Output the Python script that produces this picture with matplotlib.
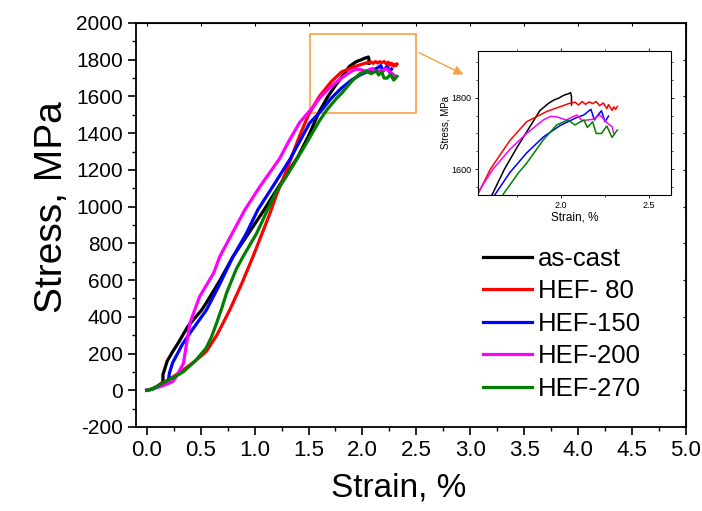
import numpy as np
import matplotlib
matplotlib.use("Agg")
import matplotlib.pyplot as plt
from matplotlib.patches import Rectangle
from matplotlib.ticker import MultipleLocator

plt.rcParams['font.family'] = ['Liberation Sans', 'DejaVu Sans']
plt.rcParams['axes.unicode_minus'] = False

# ---- data (strain %, stress MPa) ----
labels = ["as-cast", "HEF- 80", "HEF-150", "HEF-200", "HEF-270"]
colors = ["#000000", "#ff0000", "#0000ff", "#ff00ff", "#008000"]

strain_ascast = [0, 0.05, 0.10, 0.15, 0.15, 0.19, 0.24, 0.29, 0.38, 0.51, 0.55, 0.68,
                 0.80, 0.95, 1.08, 1.17, 1.29, 1.40, 1.50, 1.60, 1.68, 1.75, 1.80,
                 1.88, 1.93, 1.96, 1.99, 2.01, 2.03, 2.045, 2.055, 2.06, 2.06]
stress_ascast = [0, 8, 22, 45, 85, 160, 210, 256, 347, 438, 474, 600,
                 728, 860, 975, 1060, 1170, 1270, 1385, 1518, 1600, 1660, 1700,
                 1764, 1785, 1794, 1800, 1806, 1810, 1812, 1815, 1804, 1780]

strain_hef80 = [0, 0.05, 0.15, 0.25, 0.34, 0.45, 0.55, 0.65, 0.77, 0.88, 0.985, 1.08,
                1.14, 1.20, 1.27, 1.34, 1.42, 1.50, 1.60, 1.71, 1.805, 1.92, 2.05,
                2.08, 2.10, 2.12, 2.14, 2.16, 2.18, 2.20, 2.22, 2.24, 2.26, 2.27,
                2.29, 2.30, 2.31, 2.32]
stress_hef80 = [0, 6, 40, 75, 111, 160, 210, 300, 438, 580, 728, 870,
                960, 1060, 1160, 1265, 1390, 1500, 1600, 1680, 1733, 1762, 1785,
                1788, 1780, 1790, 1782, 1789, 1784, 1790, 1778, 1786, 1770, 1781,
                1765, 1775, 1768, 1776]

strain_hef150 = [0, 0.05, 0.10, 0.15, 0.20, 0.21, 0.24, 0.27, 0.33, 0.40, 0.554, 0.67,
                 0.80, 0.92, 1.03, 1.18, 1.33, 1.51, 1.615, 1.71, 1.805, 1.90, 1.994,
                 2.09, 2.13, 2.17, 2.19, 2.21, 2.23, 2.25, 2.27]
stress_hef150 = [0, 6, 18, 35, 50, 93, 150, 183, 250, 311, 438, 570,
                 728, 850, 983, 1120, 1260, 1455, 1520, 1590, 1645, 1690, 1722,
                 1745, 1752, 1768, 1738, 1752, 1764, 1733, 1749]

strain_hef200 = [0, 0.05, 0.15, 0.24, 0.28, 0.34, 0.40, 0.445, 0.49, 0.62, 0.677, 0.77,
                 0.91, 1.05, 1.23, 1.33, 1.42, 1.53, 1.615, 1.71, 1.805, 1.90, 1.94,
                 1.976, 2.03, 2.06, 2.09, 2.12, 2.15, 2.18, 2.22, 2.24, 2.26, 2.29, 2.30]
stress_hef200 = [0, 6, 25, 47, 80, 147, 365, 438, 510, 638, 728, 830,
                 983, 1110, 1260, 1370, 1460, 1535, 1600, 1655, 1700, 1738, 1748,
                 1747, 1738, 1745, 1752, 1736, 1738, 1740, 1752, 1742, 1731, 1719, 1700]

strain_hef270 = [0, 0.05, 0.15, 0.25, 0.34, 0.45, 0.55, 0.60, 0.65, 0.70, 0.74, 0.83,
                 0.893, 1.02, 1.11, 1.19, 1.30, 1.435, 1.605, 1.67, 1.76, 1.805, 1.90,
                 1.976, 2.04, 2.08, 2.10, 2.13, 2.15, 2.18, 2.20, 2.23, 2.26, 2.29, 2.32]
stress_hef270 = [0, 5, 40, 70, 101, 160, 229, 290, 370, 455, 530, 660,
                 728, 856, 970, 1070, 1170, 1300, 1471, 1527, 1590, 1616, 1682,
                 1724, 1738, 1724, 1730, 1738, 1717, 1733, 1700, 1700, 1721, 1689, 1710]

strains = [strain_ascast, strain_hef80, strain_hef150, strain_hef200, strain_hef270]
stresses = [stress_ascast, stress_hef80, stress_hef150, stress_hef200, stress_hef270]

orange = "#f7a040"

fig = plt.figure(figsize=(7.02, 5.11), dpi=100)
ax = fig.add_axes([0.1937, 0.1644, 0.7835, 0.7906])

for x, y, c, lab in zip(strains, stresses, colors, labels):
    ax.plot(x, y, color=c, lw=2.3, label=lab, solid_joinstyle='round')

ax.set_xlim(-0.1, 5.0)
ax.set_ylim(-200, 2000)
ax.xaxis.set_minor_locator(MultipleLocator(0.25))
ax.yaxis.set_major_locator(MultipleLocator(200))
ax.yaxis.set_minor_locator(MultipleLocator(100))
xt = np.arange(0, 5.01, 0.5)
ax.set_xticks(xt)
ax.set_xticklabels([f"{v:.1f}" for v in xt], fontsize=16)
ax.tick_params(axis='y', labelsize=15)
ax.tick_params(which='major', direction='out', length=6, width=1.2)
ax.tick_params(which='minor', direction='out', length=3, width=1.0)
for s in ax.spines.values():
    s.set_linewidth(1.3)

# faint mirrored ticks on top / right
top = ax.secondary_xaxis('top')
top.set_xticks(xt)
top.tick_params(direction='in', length=2, width=0.8, labeltop=False)
right = ax.secondary_yaxis('right')
right.set_yticks(np.arange(-200, 2001, 200))
right.tick_params(direction='in', length=2, width=0.8, labelright=False)

ax.set_xlabel("Strain, %", fontsize=24, labelpad=8)
ax.xaxis.label.set_x(0.477)
ax.set_ylabel("Stress, MPa", fontsize=28, labelpad=4)
ax.yaxis.label.set_y(0.545)

leg = ax.legend(loc='upper left', bbox_to_anchor=(0.612, 0.471), frameon=False,
                fontsize=18.5, handlelength=1.9, handletextpad=0.25,
                labelspacing=0.33, borderaxespad=0)
for h in leg.get_lines():
    h.set_linewidth(2.3)

# zoom box and arrow
ax.add_patch(Rectangle((1.51, 1510), 0.99, 430, fill=False, edgecolor=orange, lw=1.2))
ax.annotate("", xy=(2.96, 1713), xytext=(2.505, 1844),
            arrowprops=dict(arrowstyle='-|>', color=orange, lw=1.0, mutation_scale=14))

# inset
ins = fig.add_axes([0.681, 0.6184, 0.275, 0.2818])
for x, y, c in zip(strains, stresses, colors):
    ins.plot(x, y, color=c, lw=1.1)
ins.set_xlim(1.53, 2.625)
ins.set_ylim(1527, 1932)
ins.xaxis.set_major_locator(MultipleLocator(0.5))
ins.xaxis.set_minor_locator(MultipleLocator(0.25))
ins.yaxis.set_major_locator(MultipleLocator(200))
ins.yaxis.set_minor_locator(MultipleLocator(50))
ins.tick_params(labelsize=6.5, length=2.5, width=0.6, pad=2)
ins.tick_params(which='minor', length=1.5, width=0.5)
ins.tick_params(which='both', top=True, right=True)
ins.set_xlabel("Strain, %", fontsize=8.5, labelpad=1)
ins.set_ylabel("Stress, MPa", fontsize=7, labelpad=1)
for s in ins.spines.values():
    s.set_linewidth(0.8)

fig.savefig("out.png", dpi=100)
